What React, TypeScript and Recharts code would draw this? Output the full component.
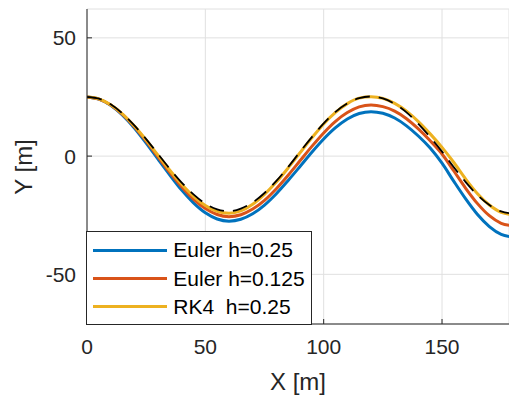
import { CartesianGrid, Label, Legend, Line, LineChart, XAxis, YAxis } from "recharts";

const FONT = '"Liberation Sans", Arial, Helvetica, sans-serif';
const AXIS_COLOR = "#262626";
const GRID_COLOR = "#e0e0e0";

// X positions [m] where the trajectories were sampled
const xPositions = [
  0, 5, 10, 15, 20, 25, 30, 35, 40, 45, 50, 55, 60, 65, 70, 75, 80, 85, 90, 95, 100, 105, 110, 115,
  120, 125, 130, 135, 140, 145, 150, 155, 160, 165, 170, 175, 180,
];

// Y [m] for each method
const eulerCoarse = [
  25, 24.1, 21.5, 17.3, 11.9, 5.5, -1.3, -8.0, -14.4, -19.8, -24.0, -26.6, -27.5, -26.7, -24.4,
  -20.7, -15.9, -10.3, -4.4, 1.6, 7.2, 12.0, 15.7, 18.0, 18.8, 18.1, 16.1, 12.8, 8.5, 3.4, -3.0,
  -10.7, -18.1, -24.7, -29.8, -33.1, -34.2,
];
const eulerFine = [
  25, 24.1, 21.6, 17.6, 12.4, 6.3, -0.3, -6.9, -13.0, -18.2, -22.2, -24.7, -25.6, -24.8, -22.4,
  -18.7, -13.8, -8.1, -2.0, 4.1, 9.8, 14.7, 18.4, 20.8, 21.6, 20.9, 19.0, 15.8, 11.5, 6.5, 0.9,
  -6.3, -13.6, -20.1, -25.2, -28.4, -29.5,
];
const rk4 = [
  25, 24.2, 21.7, 17.8, 12.7, 6.8, 0.4, -6.0, -11.9, -17.0, -20.9, -23.4, -24.2, -23.2, -20.4,
  -16.2, -11.0, -5.0, 1.4, 7.7, 13.6, 18.5, 22.2, 24.5, 25.1, 24.4, 22.3, 19.0, 14.6, 9.4, 3.7,
  -2.7, -9.7, -15.9, -20.7, -23.8, -24.8,
];
const exact = [
  25, 24.3, 21.9, 18.0, 13.0, 7.2, 0.9, -5.4, -11.2, -16.2, -20.1, -22.5, -23.3, -22.2, -19.6,
  -15.6, -10.5, -4.6, 1.8, 8.0, 13.8, 18.7, 22.3, 24.5, 25.2, 24.4, 22.1, 18.5, 13.6, 8.0, 1.9,
  -4.7, -11.0, -16.5, -20.7, -23.4, -24.3,
];

const xTicks = [0, 50, 100, 150];
const yTicks = [-50, 0, 50];

const legendItems = [
  { label: "Euler h=0.25", color: "#0072BD" },
  { label: "Euler h=0.125", color: "#D95319" },
  { label: "RK4  h=0.25", color: "#EDB120" },
];

const data = xPositions.map((x, i) => ({
  x,
  eulerCoarse: eulerCoarse[i],
  eulerFine: eulerFine[i],
  rk4: rk4[i],
  exact: exact[i],
}));

function LegendBox() {
  return (
    <div
      style={{
        position: "relative",
        width: 226,
        height: 94,
        boxSizing: "border-box",
        border: `1px solid ${AXIS_COLOR}`,
        background: "#fff",
        fontFamily: FONT,
      }}
    >
      {legendItems.map((item, i) => (
        <div
          key={item.label}
          style={{
            position: "absolute",
            left: 0,
            top: 18.3 + i * 28.3 - 12,
            height: 24,
            display: "flex",
            alignItems: "center",
          }}
        >
          <span style={{ marginLeft: 6.3, width: 73.4, height: 3, background: item.color }} />
          <span
            style={{
              marginLeft: 6.6,
              fontSize: 21,
              lineHeight: "24px",
              color: "#000",
              whiteSpace: "pre",
            }}
          >
            {item.label}
          </span>
        </div>
      ))}
    </div>
  );
}

export default function App() {
  const tickStyle = { fill: AXIS_COLOR, fontSize: 21, fontFamily: FONT };

  return (
    <div style={{ position: "absolute", left: 0, top: 0, width: 509, height: 399, background: "#fff" }}>
      <LineChart
        width={509}
        height={399}
        data={data}
        margin={{ top: 9, right: 0, bottom: 0, left: 0 }}
        style={{ fontFamily: FONT }}
      >
        <CartesianGrid stroke={GRID_COLOR} strokeWidth={1} />
        <XAxis
          dataKey="x"
          type="number"
          domain={[0, 178.3]}
          allowDataOverflow
          ticks={xTicks}
          height={75}
          stroke={AXIS_COLOR}
          tick={tickStyle}
          tickSize={-5}
          tickMargin={20.5}
        >
          <Label
            content={() => (
              <text
                x={298}
                y={390}
                textAnchor="middle"
                fill={AXIS_COLOR}
                fontSize={24}
                fontFamily={FONT}
              >
                X [m]
              </text>
            )}
          />
        </XAxis>
        <XAxis
          xAxisId="top"
          orientation="top"
          type="number"
          domain={[0, 178.3]}
          height={0}
          tick={false}
          tickLine={false}
          stroke={AXIS_COLOR}
        />
        <YAxis
          type="number"
          domain={[-71, 62.2]}
          allowDataOverflow
          ticks={yTicks}
          width={87}
          stroke={AXIS_COLOR}
          tick={tickStyle}
          tickSize={-5}
          tickMargin={16}
        >
          <Label
            content={() => (
              <text
                x={23}
                y={167}
                transform="rotate(-90 23 167)"
                textAnchor="middle"
                dominantBaseline="central"
                fill={AXIS_COLOR}
                fontSize={24}
                fontFamily={FONT}
              >
                Y [m]
              </text>
            )}
          />
        </YAxis>
        <Line type="monotone" dataKey="eulerCoarse" stroke="#0072BD" strokeWidth={3} dot={false} isAnimationActive={false} />
        <Line type="monotone" dataKey="eulerFine" stroke="#D95319" strokeWidth={3} dot={false} isAnimationActive={false} />
        <Line type="monotone" dataKey="rk4" stroke="#EDB120" strokeWidth={3} dot={false} isAnimationActive={false} />
        <Line
          type="monotone"
          dataKey="exact"
          stroke="#000"
          strokeWidth={1.8}
          strokeDasharray="15 9"
          dot={false}
          legendType="none"
          isAnimationActive={false}
        />
        <Legend
          layout="vertical"
          align="center"
          verticalAlign="middle"
          content={LegendBox}
          wrapperStyle={{ left: 86, top: 231, width: 226, height: 94 }}
        />
      </LineChart>
    </div>
  );
}
